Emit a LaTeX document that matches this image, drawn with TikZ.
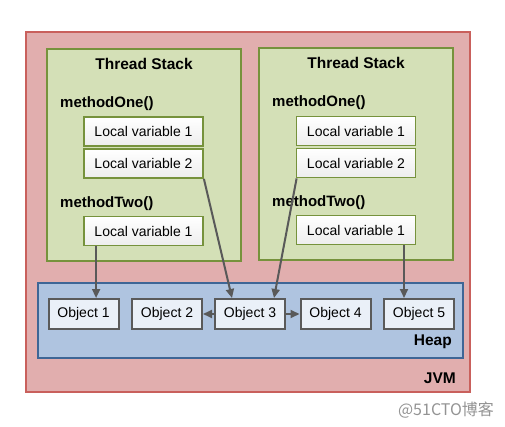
\documentclass[tikz,border=0pt]{standalone}
\usepackage{fontspec}
\setmainfont{Liberation Sans}
\newfontfamily\cjkfont{Noto Sans CJK SC}
\usetikzlibrary{arrows.meta}

\definecolor{jvmfill}{HTML}{E1AEAE}
\definecolor{jvmline}{HTML}{C9605C}
\definecolor{stackfill}{HTML}{D4E0B7}
\definecolor{stackline}{HTML}{76923C}
\definecolor{heapfill}{HTML}{AFC4E0}
\definecolor{heapline}{HTML}{3E6696}
\definecolor{objfill}{HTML}{EAF0F8}
\definecolor{objline}{HTML}{5A5A5A}
\definecolor{refline}{HTML}{595959}

\tikzset{
  jvmbox/.style={fill=jvmfill, draw=jvmline, line width=1.8pt},
  stackbox/.style={fill=stackfill, draw=stackline, line width=1.8pt},
  heapbox/.style={fill=heapfill, draw=heapline, line width=1.8pt},
  localvar/.style={draw=stackline, line width=1.8pt, top color=white, bottom color=gray!14,
    minimum width=119pt, minimum height=29pt, inner sep=0pt, font=\fontsize{14}{16}\selectfont},
  object/.style={draw=objline, fill=objfill, line width=2pt, minimum width=70pt,
    minimum height=30pt, inner sep=0pt, font=\fontsize{14}{16}\selectfont},
  title/.style={font=\bfseries\fontsize{15.5}{18}\selectfont},
  method/.style={anchor=west, inner sep=0pt, font=\bfseries\fontsize{15}{18}\selectfont},
  ref/.style={draw=refline, line width=2pt, -{Triangle[length=9pt,width=8pt]}},
}

\begin{document}
\begin{tikzpicture}[x=1pt,y=-1pt]
  \useasboundingbox (0,0) rectangle (505,427);

  % Draw the JVM box
  \draw[jvmbox] (26,32) rectangle (470,392);
  \node[title, anchor=east, inner sep=0pt] (jvm) at (456,378) {JVM};

  % Draw the two thread stacks
  \draw[stackbox] (47,49) rectangle (241,261);
  \draw[stackbox] (259,48) rectangle (453,260);
  \node[title] (stacka) at (144,64) {Thread Stack};
  \node[title] (stackb) at (356,63) {Thread Stack};

  % Method names in the first thread stack
  \node[method] (onea) at (60,104) {methodOne()};
  \node[method] (twoa) at (60,204) {methodTwo()};

  % Local variables in the first thread stack
  \node[localvar] (lv1a) at (143.5,131.5) {Local variable 1};
  \node[localvar] (lv2a) at (143.5,163.5) {Local variable 2};
  \node[localvar] (lv3a) at (143.5,231) {Local variable 1};

  % Method names in the second thread stack
  \node[method] (oneb) at (272,103) {methodOne()};
  \node[method] (twob) at (272,203) {methodTwo()};

  % Local variables in the second thread stack
  \node[localvar] (lv1b) at (356,131) {Local variable 1};
  \node[localvar] (lv2b) at (356,163) {Local variable 2};
  \node[localvar] (lv3b) at (356,230) {Local variable 1};

  % Draw the heap
  \draw[heapbox] (38,283) rectangle (463,358);
  \node[title, anchor=east, inner sep=0pt] (heap) at (452,342) {Heap};

  % Objects on the heap
  \foreach \x/\i in {83.5/1,167/2,250/3,335.5/4,419/5}
    \node[object] (obj\i) at (\x,314) {Object \i};

  % References from the local variables to the objects
  \draw[ref] ([xshift=13pt]lv3a.south west) -- ([xshift=13pt]lv3a.south west |- obj1.north);
  \draw[ref] (lv2a.south east) -- ([xshift=-18pt]obj3.north);
  \draw[ref] ([xshift=1pt]lv2b.south west) -- ([xshift=24pt]obj3.north);
  \draw[ref] ([xshift=48pt]lv3b.south) -- ([xshift=48pt]lv3b.south |- obj5.north);

  % References between the objects
  \draw[ref] (obj3.west) -- (obj2.east);
  \draw[ref] (obj3.east) -- (obj4.west);

  % Watermark
  \node[text=gray!85, font=\cjkfont\fontsize{16}{18}\selectfont] (mark) at (446,410) {@51CTO博客};
\end{tikzpicture}
\end{document}
